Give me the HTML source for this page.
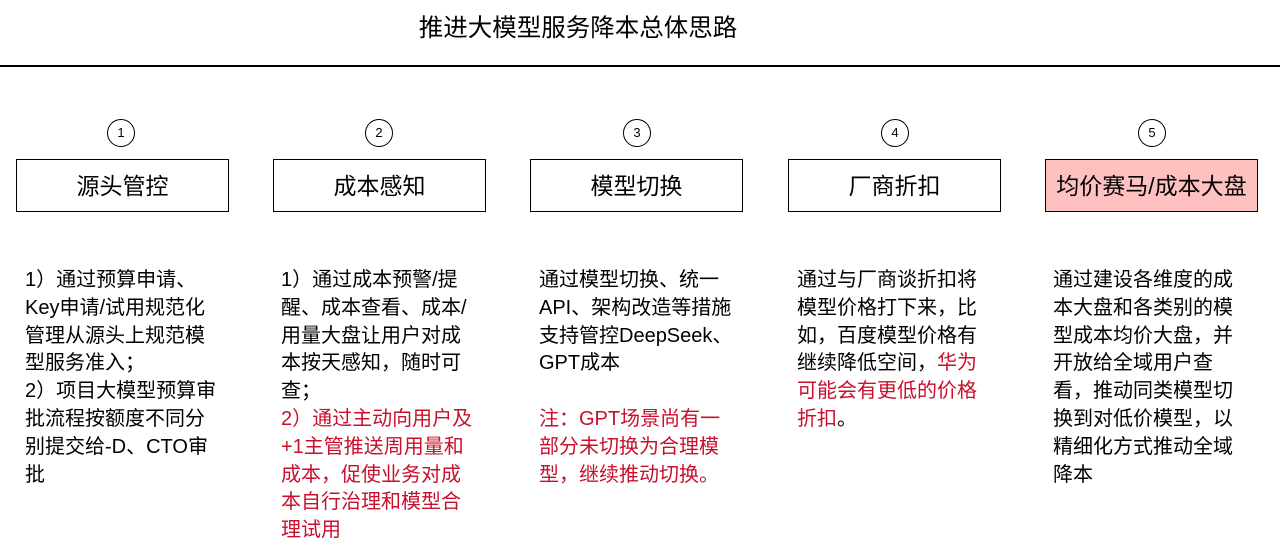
<!DOCTYPE html>
<html><head><meta charset="utf-8"><style>
body{margin:0;width:1280px;height:552px;background:#fff;position:relative;overflow:hidden;font-family:"Liberation Sans","Noto Sans CJK SC",sans-serif;color:#000}
.t{position:absolute;left:0;width:1156px;top:9px;text-align:center;font-size:24.5px}
.hr{position:absolute;left:0;top:65px;width:1280px;height:2px;background:#000}
.c{position:absolute;top:119px;width:26px;height:26px;border:1.5px solid #000;border-radius:50%;font-size:13px;line-height:26px;text-align:center}
.b{position:absolute;top:159px;width:211px;height:53px;border:1.5px solid #000;font-size:23px;line-height:53px;text-align:center;box-sizing:border-box}
.p{position:absolute;top:267px;font-size:20px;line-height:27.8px;white-space:nowrap}
.r{color:#c8102e}
</style></head><body>
<div class="t">推进大模型服务降本总体思路</div>
<div class="hr"></div>
<div class="c" style="left:107px">1</div>
<div class="c" style="left:365px">2</div>
<div class="c" style="left:623px">3</div>
<div class="c" style="left:881px">4</div>
<div class="c" style="left:1138px">5</div>
<div class="b" style="left:16px;width:213px">源头管控</div>
<div class="b" style="left:273px;width:213px">成本感知</div>
<div class="b" style="left:530px;width:213px">模型切换</div>
<div class="b" style="left:788px;width:213px">厂商折扣</div>
<div class="b" style="left:1045px;width:213px;background:#ffc0c0">均价赛马/成本大盘</div>
<div class="p" style="left:25px">1）通过预算申请、<br>Key申请/试用规范化<br>管理从源头上规范模<br>型服务准入；<br>2）项目大模型预算审<br>批流程按额度不同分<br>别提交给-D、CTO审<br>批</div>
<div class="p" style="left:281px">1）通过成本预警/提<br>醒、成本查看、成本/<br>用量大盘让用户对成<br>本按天感知，随时可<br>查；<br><span class="r">2）通过主动向用户及<br>+1主管推送周用量和<br>成本，促使业务对成<br>本自行治理和模型合<br>理试用</span></div>
<div class="p" style="left:539px">通过模型切换、统一<br>API、架构改造等措施<br>支持管控DeepSeek、<br>GPT成本<br><br><span class="r">注：GPT场景尚有一<br>部分未切换为合理模<br>型，继续推动切换。</span></div>
<div class="p" style="left:797px">通过与厂商谈折扣将<br>模型价格打下来，比<br>如，百度模型价格有<br>继续降低空间，<span class="r">华为<br>可能会有更低的价格<br>折扣</span>。</div>
<div class="p" style="left:1053px">通过建设各维度的成<br>本大盘和各类别的模<br>型成本均价大盘，并<br>开放给全域用户查<br>看，推动同类模型切<br>换到对低价模型，以<br>精细化方式推动全域<br>降本</div>
</body></html>
